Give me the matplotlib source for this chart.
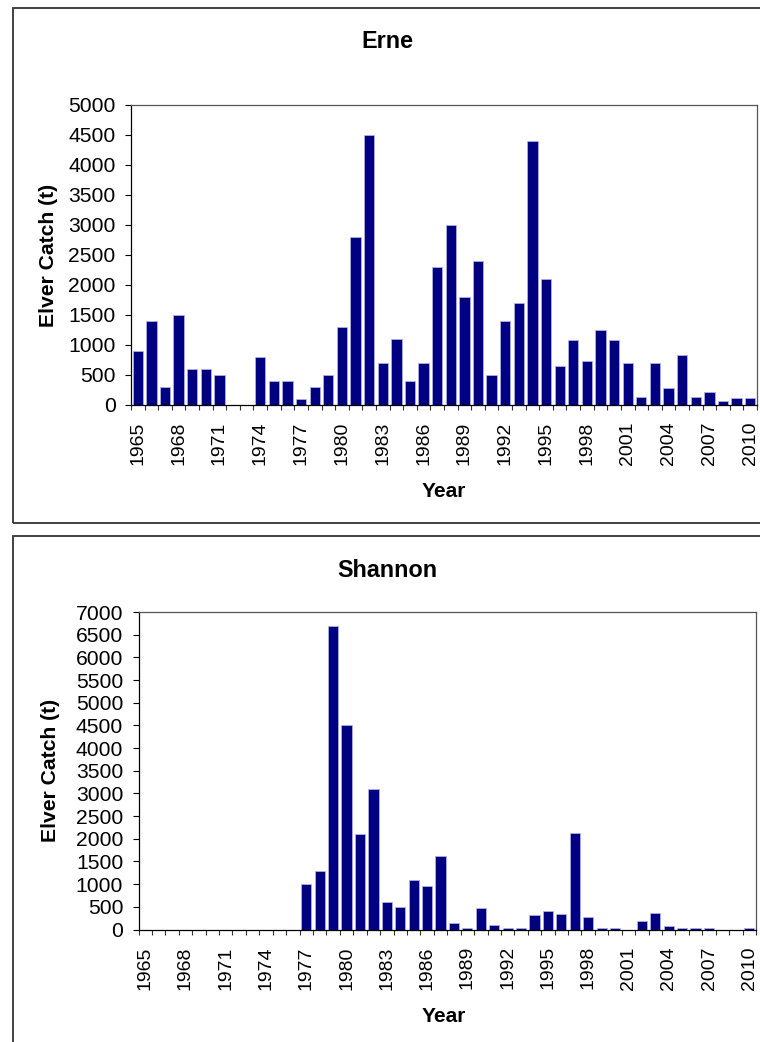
import matplotlib
matplotlib.use("Agg")
import matplotlib.pyplot as plt
from matplotlib.patches import Rectangle
import numpy as np

plt.rcParams['font.family'] = ['Liberation Sans', 'DejaVu Sans']

years = list(range(1965, 2011))

erne_catch = [900, 1400, 300, 1500, 600, 600, 500, 0, 0, 800,
              400, 400, 100, 300, 500, 1300, 2800, 4500, 700, 1100,
              400, 700, 2300, 3000, 1800, 2400, 500, 1400, 1700, 4400,
              2100, 650, 1080, 730, 1250, 1080, 700, 140, 700, 280,
              830, 140, 210, 60, 110, 110]

shannon_catch = [0, 0, 0, 0, 0, 0, 0, 0, 0, 0,
                 0, 0, 1000, 1300, 6700, 4500, 2100, 3100, 600, 500,
                 1100, 970, 1630, 150, 40, 470, 110, 40, 40, 310,
                 410, 350, 2120, 270, 40, 40, 0, 180, 370, 70,
                 40, 40, 40, 0, 0, 40]

titles = ["Erne", "Shannon"]
y_label = "Elver Catch (t)"
x_label = "Year"
erne_yticks = list(range(0, 5001, 500))
shannon_yticks = list(range(0, 7001, 500))

W, H = 760, 1042
fig = plt.figure(figsize=(W / 100, H / 100), dpi=100)

def fx(px):
    return px / W

def fy(py):
    return 1 - py / H

# panel frames
fig.patches.append(Rectangle((fx(13), fy(523)), 1.2, fy(8) - fy(523),
                             transform=fig.transFigure, fill=False,
                             edgecolor='#333333', linewidth=1.3))
fig.patches.append(Rectangle((fx(13), -0.2), 1.2, fy(536) + 0.2,
                             transform=fig.transFigure, fill=False,
                             edgecolor='#333333', linewidth=1.3))

def draw(ax_rect, values, yticks, title, title_base, ylab_x, year_base):
    ax = fig.add_axes(ax_rect)
    x = np.arange(len(years))
    ax.bar(x, values, width=0.76, color='#000080', edgecolor='#b8b8e8',
           linewidth=0.5, zorder=2)
    ax.set_xlim(-0.5, len(years) - 0.5)
    ax.set_ylim(yticks[0], yticks[-1])
    ax.set_yticks(yticks)
    ax.set_yticklabels([str(v) for v in yticks], fontsize=15.2)
    lab_idx = [i for i, yv in enumerate(years) if (yv - 1965) % 3 == 0]
    ax.set_xticks(lab_idx)
    ax.set_xticklabels([str(years[i]) for i in lab_idx], rotation=90,
                       fontsize=14)
    ax.set_xticks(np.arange(-0.5, len(years)), minor=True)
    ax.tick_params(axis='x', which='major', length=0, pad=12)
    ax.tick_params(axis='x', which='minor', length=3.8, width=0.8,
                   direction='out', color='#333333')
    ax.tick_params(axis='y', which='major', length=4.5, width=0.8,
                   direction='out', pad=6.5)
    for s in ['left', 'bottom']:
        ax.spines[s].set_color('black')
        ax.spines[s].set_linewidth(0.9)
    for s in ['top', 'right']:
        ax.spines[s].set_color('#555555')
        ax.spines[s].set_linewidth(0.9)
    cy = ax_rect[1] + ax_rect[3] / 2
    fig.text(fx(387), fy(title_base), title, ha='center', va='baseline',
             fontsize=16.8, fontweight='bold')
    fig.text(fx(ylab_x), cy, y_label, rotation=90, ha='center',
             va='center', fontsize=15.2, fontweight='bold')
    fig.text(fx(444), fy(year_base), x_label, ha='center', va='baseline',
             fontsize=15, fontweight='bold')
    return ax

draw([fx(131), fy(405), fx(757) - fx(131), fy(105) - fy(405)],
     erne_catch, erne_yticks, titles[0], 48, 48, 497)
draw([fx(138.5), fy(929.5), fx(756) - fx(138.5), fy(612) - fy(929.5)],
     shannon_catch, shannon_yticks, titles[1], 577, 51, 1022)

fig.savefig("out.png", dpi=100)
